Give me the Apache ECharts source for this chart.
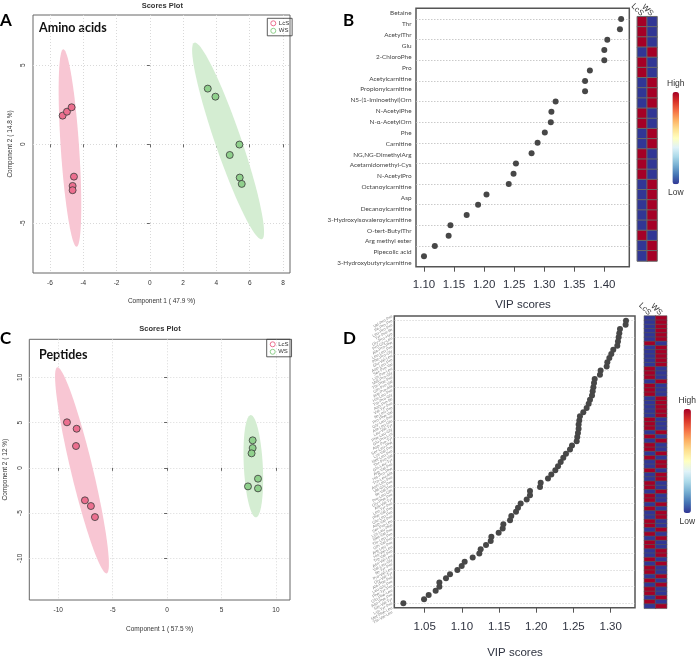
<!DOCTYPE html>
<html lang="en">
<head>
<meta charset="UTF-8" />
<title>Scores plots and VIP scores</title>
<script src="https://cdn.jsdelivr.net/npm/echarts@6.0.0/dist/echarts.min.js"></script>
<style>html, body { margin: 0; padding: 0; background: #fff; }</style>
</head>
<body>
<div id="main" style="width: 697px; height: 658px"></div>
<script>
// ---- A: amino acids, PLS-DA scores ----
const aLcS = [[-5.24, 1.81], [-4.98, 2.06], [-4.70, 2.34], [-4.56, -2.05], [-4.64, -2.64], [-4.64, -2.91]]
const aWS = [[3.48, 3.52], [3.94, 3.01], [4.80, -0.68], [5.38, -0.02], [5.40, -2.11], [5.52, -2.51]]
// ellipse = [centre x, centre y, half axis 1 dx, dy, half axis 2 dx, dy]
const aEllipseLcS = [-4.80, -0.24, 0.40, -6.25, 0.55, 0.04]
const aEllipseWS = [4.70, 0.21, 2.03, -6.22, 0.74, 0.27]

// ---- C: peptides, PLS-DA scores ----
const cLcS = [[-9.20, 5.03], [-8.31, 4.32], [-8.37, 2.41], [-7.55, -3.59], [-7.00, -4.22], [-6.63, -5.44]]
const cWS = [[7.86, 3.04], [7.86, 2.19], [7.76, 1.60], [8.35, -1.20], [7.43, -2.05], [8.35, -2.27]]
const cEllipseLcS = [-7.82, -0.28, 2.27, -11.38, 0.98, 0.28]
const cEllipseWS = [7.92, 0.18, 0.24, -5.65, 0.87, 0.05]

// ---- B: amino acids VIP scores (top to bottom) ----
const bNames = ['Betaine', 'Thr', 'AcetylThr', 'Glu', '2-ChloroPhe', 'Pro', 'Acetylcarnitine',
  'Propionylcarnitine', 'N5-(1-Iminoethyl)Orn', 'N-AcetylPhe', 'N-\u03b1-AcetylOrn', 'Phe', 'Carnitine',
  'NG,NG-DimethylArg', 'Acetamidomethyl-Cys', 'N-AcetylPro', 'Octanoylcarnitine', 'Asp',
  'Decanoylcarnitine', '3-Hydroxyisovaleroylcarnitine', 'O-tert-ButylThr', 'Arg methyl ester',
  'Pipecolic acid', '3-Hydroxybutyrylcarnitine']
const bVip = [1.428, 1.426, 1.405, 1.400, 1.400, 1.376, 1.368, 1.368, 1.319, 1.312, 1.311, 1.301,
  1.289, 1.279, 1.253, 1.249, 1.241, 1.204, 1.190, 1.171, 1.144, 1.141, 1.118, 1.100]
const bLcS = [1, 1, 1, 0, 1, 1, 0, 0, 0, 1, 1, 0, 0, 1, 1, 1, 0, 0, 0, 0, 0, 1, 0, 0]
const bWS = [0, 0, 0, 1, 0, 0, 1, 1, 1, 0, 0, 1, 1, 0, 0, 0, 1, 1, 1, 1, 1, 0, 1, 1]
const bTicks = [1.10, 1.15, 1.20, 1.25, 1.30, 1.35, 1.40]

// ---- D: peptides VIP scores (top to bottom) ----
const dNames = ['Val-Pro-Pro', 'Ile-Pro-Pro', 'Leu-Pro-Pro', 'Tyr-Pro-Ile', 'Gly-Pro-Hyp', 'Pro-Gly-Leu',
  'Ala-Pro-Phe', 'Leu-Leu-Pro', 'Phe-Pro-Gly', 'Glu-Val-Leu', 'Asp-Leu-Pro', 'Ser-Pro-Val', 'Lys-Pro-Leu',
  'Met-Pro-Gly', 'Thr-Phe-Pro', 'Gln-Pro-Val', 'Arg-Pro-Ala', 'His-Leu-Pro', 'Trp-Pro-Gly', 'Asn-Pro-Ile',
  'Val-Tyr-Pro', 'Ile-Leu-Pro', 'Pro-Phe-Val', 'Gly-Leu-Pro', 'Ala-Leu-Glu', 'Leu-Val-Tyr', 'Phe-Leu-Gly',
  'Glu-Pro-Lys', 'Asp-Pro-Tyr', 'Ser-Leu-Phe', 'Lys-Val-Pro', 'Met-Leu-Pro', 'Thr-Pro-Val', 'Gln-Leu-Tyr',
  'Arg-Val-Pro', 'His-Pro-Phe', 'Trp-Leu-Ala', 'Asn-Leu-Pro', 'Val-Gly-Pro', 'Ile-Val-Pro', 'Pro-Leu-Gln',
  'Gly-Phe-Pro', 'Ala-Val-Tyr', 'Leu-Tyr-Pro', 'Phe-Val-Pro', 'Glu-Leu-Pro', 'Asp-Val-Pro', 'Ser-Pro-Leu',
  'Lys-Leu-Phe', 'Met-Val-Pro', 'Thr-Leu-Pro', 'Gln-Val-Pro', 'Arg-Leu-Pro', 'His-Val-Leu', 'Trp-Val-Pro',
  'Asn-Val-Leu', 'Val-Leu-Gly', 'Ile-Tyr-Pro', 'Pro-Val-Leu', 'Gly-Val-Tyr', 'Ala-Phe-Pro', 'Leu-Gly-Pro',
  'Phe-Tyr-Pro', 'Glu-Phe-Leu', 'Asp-Phe-Pro', 'Ser-Val-Tyr', 'Lys-Tyr-Pro', 'Met-Phe-Leu', 'Thr-Val-Leu']
const dVip = [1.3206, 1.3201, 1.3125, 1.3116, 1.3107, 1.3098, 1.3089, 1.3035, 1.3008, 1.2982,
  1.2955, 1.2946, 1.2865, 1.2856, 1.2785, 1.2776, 1.2767, 1.2758, 1.2749, 1.2722,
  1.2704, 1.2677, 1.2632, 1.2587, 1.2578, 1.2569, 1.2569, 1.2560, 1.2551, 1.2543,
  1.2480, 1.2453, 1.2399, 1.2363, 1.2328, 1.2292, 1.2256, 1.2202, 1.2157, 1.2059,
  1.2050, 1.1915, 1.1915, 1.1871, 1.1790, 1.1754, 1.1727, 1.1664, 1.1647, 1.1557,
  1.1548, 1.1494, 1.1396, 1.1387, 1.1324, 1.1252, 1.1234, 1.1145, 1.1037, 1.0997,
  1.0939, 1.0840, 1.0786, 1.0697, 1.0697, 1.0647, 1.0553, 1.0491, 1.0213]
const dLcS = [0, 0, 0, 0, 0, 0, 1, 0, 0, 0, 0, 0, 1, 1, 1, 0, 1, 1, 1, 0,
  0, 0, 0, 0, 1, 1, 1, 0, 1, 0, 1, 1, 0, 1, 0, 0, 1, 0, 0, 1,
  1, 0, 1, 1, 0, 1, 0, 0, 1, 1, 0, 1, 0, 1, 1, 0, 0, 1, 0, 1,
  1, 0, 1, 0, 1, 1, 0, 1, 0]
const dWS = dLcS.map(v => 1 - v)
const dTicks = [1.05, 1.10, 1.15, 1.20, 1.25, 1.30]

const groups = ['LcS', 'WS']
const rdylbu = ['#313695', '#4575b4', '#74add1', '#abd9e9', '#e0f3f8', '#ffffbf',
  '#fee090', '#fdae61', '#f46d43', '#d73027', '#a50026']

const red = '#ec6f8f', green = '#8fd08c'
const redFill = '#f8c6d3', greenFill = '#d4edd2'
const rFont = 'Liberation Sans'

function ellipseItem(params, api) {
  const pts = []
  for (let i = 0; i < 90; i++) {
    const t = i / 90 * Math.PI * 2
    pts.push(api.coord([
      api.value(0) + Math.cos(t) * api.value(2) + Math.sin(t) * api.value(4),
      api.value(1) + Math.cos(t) * api.value(3) + Math.sin(t) * api.value(5)
    ]))
  }
  return { type: 'polygon', shape: { points: pts }, style: { fill: api.visual('color') } }
}

// axis helpers
const dotted = { show: true, lineStyle: { color: '#d9d9d9', type: [1, 2], width: 1 } }
function scoreX(gi, min, max, ticks, name, gap) {
  return {
    type: 'value', gridIndex: gi, min: min, max: max, name: name, nameLocation: 'middle', nameGap: gap,
    nameTextStyle: { fontFamily: rFont, fontSize: 6.5, color: '#333' },
    axisLine: { show: false },
    axisTick: { show: true, length: 3, customValues: ticks, lineStyle: { color: '#666' } },
    axisLabel: { customValues: ticks, fontFamily: rFont, fontSize: 6.5, color: '#333', margin: 7 },
    splitLine: dotted
  }
}
function scoreY(gi, min, max, ticks, name, gap) {
  return {
    type: 'value', gridIndex: gi, min: min, max: max, name: name, nameLocation: 'middle', nameGap: gap,
    nameTextStyle: { fontFamily: rFont, fontSize: 6.5, color: '#333' },
    axisLine: { show: false },
    axisTick: { show: true, length: 3, customValues: ticks, lineStyle: { color: '#666' } },
    axisLabel: { customValues: ticks, rotate: 90, fontFamily: rFont, fontSize: 6.5, color: '#333', margin: 6 },
    splitLine: dotted
  }
}
function vipX(gi, min, max, ticks, offset, margin) {
  return {
    type: 'value', gridIndex: gi, min: min, max: max, offset: offset,
    axisLine: { show: false },
    axisTick: { show: true, length: 5, customValues: ticks, lineStyle: { color: '#555' } },
    axisLabel: { customValues: ticks, formatter: v => v.toFixed(2), fontFamily: rFont, fontSize: 11.5,
      color: '#2f3340', margin: margin },
    splitLine: { show: false }
  }
}
function hidden(gi) {
  return { type: 'value', gridIndex: gi, min: 0, max: 1, show: false }
}
function heatX(gi, rot) {
  return {
    type: 'category', gridIndex: gi, data: groups, position: 'top',
    axisLine: { show: false }, axisTick: { show: false },
    axisLabel: { rotate: rot, fontFamily: rFont, fontSize: 8, color: '#333', margin: 2, interval: 0 }
  }
}
function catY(gi, names, opts) {
  return Object.assign({
    type: 'category', gridIndex: gi, data: names, inverse: true,
    axisLine: { show: false }, axisTick: { show: false }, axisLabel: { show: false }
  }, opts)
}

const heatB = []
bNames.forEach((n, i) => { heatB.push([0, i, bLcS[i]]); heatB.push([1, i, bWS[i]]) })
const heatD = []
dNames.forEach((n, i) => { heatD.push([0, i, dLcS[i]]); heatD.push([1, i, dWS[i]]) })

const chart = echarts.init(document.getElementById('main'))
chart.setOption({
  animation: false,
  backgroundColor: '#fff',
  textStyle: { fontFamily: rFont },
  grid: [
    { left: 33, top: 15, width: 257, height: 258, show: true, borderColor: '#666', borderWidth: 1 },
    { left: 29.3, top: 339.3, width: 260.7, height: 260.7, show: true, borderColor: '#666', borderWidth: 1 },
    { left: 416, top: 7.9, width: 213.3, height: 260.6 },
    { left: 416, top: 19, width: 213.3, height: 237.3 },
    { left: 637.3, top: 14.7, width: 19.7, height: 246.3 },
    { left: 394.3, top: 314, width: 240.7, height: 300 },
    { left: 394.3, top: 320.7, width: 240.7, height: 282.6 },
    { left: 644.3, top: 316, width: 22.4, height: 292.3 }
  ],
  xAxis: [
    scoreX(0, -7.02, 8.42, [-6, -4, -2, 0, 2, 4, 6, 8], 'Component 1 ( 47.9 %)', 25),
    scoreX(1, -12.66, 11.29, [-10, -5, 0, 5, 10], 'Component 1 ( 57.5 %)', 26),
    hidden(2),
    vipX(3, 1.0867, 1.4416, bTicks, 10.4, 12),
    heatX(4, 45),
    hidden(5),
    vipX(6, 1.0091, 1.3327, dTicks, 4.4, 13),
    heatX(7, 45)
  ],
  yAxis: [
    scoreY(0, -8.15, 8.18, [-5, 0, 5], 'Component 2 ( 14.8 %)', 19),
    scoreY(1, -14.6, 14.2, [-10, -5, 0, 5, 10], 'Component 2 ( 12 %)', 21),
    catY(2, bNames, { axisLabel: { show: true, fontFamily: 'Lato', fontSize: 6.4, color: '#444', margin: 4.5 } }),
    catY(3, bNames, { boundaryGap: false, splitLine: { show: true, lineStyle: { color: '#bdbdbd', type: [1.5, 1.5], width: 0.8 } } }),
    catY(4, bNames),
    catY(5, dNames, { axisLabel: { show: true, interval: 0, rotate: 30, fontFamily: rFont, fontSize: 4.2, color: '#888', margin: 2 } }),
    catY(6, dNames, { boundaryGap: false, splitLine: { show: true, lineStyle: { color: '#c4c4c4', type: [1.5, 1.5], width: 0.6 } } }),
    catY(7, dNames)
  ],
  visualMap: [
    { type: 'continuous', seriesIndex: 7, min: 0, max: 1, calculable: false, left: 652, top: 64,
      itemWidth: 6.6, itemHeight: 92.3, textGap: 4, text: ['High', 'Low'],
      textStyle: { fontFamily: rFont, fontSize: 8.5, color: '#333' }, inRange: { color: rdylbu } },
    { type: 'continuous', seriesIndex: 9, min: 0, max: 1, calculable: false, left: 663.5, top: 381,
      itemWidth: 7.4, itemHeight: 104, textGap: 4, text: ['High', 'Low'],
      textStyle: { fontFamily: rFont, fontSize: 8.5, color: '#333' }, inRange: { color: rdylbu } }
  ],
  legend: [
    { left: 267.3, top: 18.3, orient: 'vertical', itemWidth: 5, itemHeight: 5, itemGap: 1.5, padding: [2, 3, 2, 3],
      borderColor: '#333', borderWidth: 0.8, textStyle: { fontSize: 6, color: '#333', padding: [0, 0, 0, -2] },
      data: [{ name: 'LcS', icon: 'circle', itemStyle: { color: '#fff', borderColor: red, borderWidth: 1 } },
             { name: 'WS', icon: 'circle', itemStyle: { color: '#fff', borderColor: green, borderWidth: 1 } }] },
    { left: 266.7, top: 339.3, orient: 'vertical', itemWidth: 5, itemHeight: 5, itemGap: 1.5, padding: [2, 3, 2, 3],
      borderColor: '#333', borderWidth: 0.8, textStyle: { fontSize: 6, color: '#333', padding: [0, 0, 0, -2] },
      data: [{ name: 'LcS', icon: 'circle', itemStyle: { color: '#fff', borderColor: red, borderWidth: 1 } },
             { name: 'WS', icon: 'circle', itemStyle: { color: '#fff', borderColor: green, borderWidth: 1 } }] }
  ],
  series: [
    { type: 'custom', xAxisIndex: 0, yAxisIndex: 0, renderItem: ellipseItem, encode: { x: 0, y: 1 }, silent: true, z: 1,
      data: [{ value: aEllipseLcS, itemStyle: { color: redFill } }, { value: aEllipseWS, itemStyle: { color: greenFill } }] },
    { name: 'LcS', type: 'scatter', xAxisIndex: 0, yAxisIndex: 0, data: aLcS, symbolSize: 7, z: 3,
      itemStyle: { color: red, borderColor: '#3a3a3a', borderWidth: 0.8, opacity: 1 } },
    { name: 'WS', type: 'scatter', xAxisIndex: 0, yAxisIndex: 0, data: aWS, symbolSize: 7, z: 3,
      itemStyle: { color: green, borderColor: '#3a3a3a', borderWidth: 0.8, opacity: 1 } },
    { type: 'custom', xAxisIndex: 1, yAxisIndex: 1, renderItem: ellipseItem, encode: { x: 0, y: 1 }, silent: true, z: 1,
      data: [{ value: cEllipseLcS, itemStyle: { color: redFill } }, { value: cEllipseWS, itemStyle: { color: greenFill } }] },
    { name: 'LcS', type: 'scatter', xAxisIndex: 1, yAxisIndex: 1, data: cLcS, symbolSize: 7, z: 3,
      itemStyle: { color: red, borderColor: '#3a3a3a', borderWidth: 0.8, opacity: 1 } },
    { name: 'WS', type: 'scatter', xAxisIndex: 1, yAxisIndex: 1, data: cWS, symbolSize: 7, z: 3,
      itemStyle: { color: green, borderColor: '#3a3a3a', borderWidth: 0.8, opacity: 1 } },
    { type: 'scatter', xAxisIndex: 3, yAxisIndex: 3, symbolSize: 6, itemStyle: { color: '#474747', opacity: 1 },
      data: bVip.map((v, i) => [v, bNames[i]]) },
    { type: 'heatmap', xAxisIndex: 4, yAxisIndex: 4, data: heatB,
      itemStyle: { borderColor: '#6a6a6a', borderWidth: 1 } },
    { type: 'scatter', xAxisIndex: 6, yAxisIndex: 6, symbolSize: 6, itemStyle: { color: '#474747', opacity: 1 },
      data: dVip.map((v, i) => [v, dNames[i]]) },
    { type: 'heatmap', xAxisIndex: 7, yAxisIndex: 7, data: heatD,
      itemStyle: { borderColor: '#555', borderWidth: 0.6 } }
  ],
  graphic: [
    { type: 'rect', shape: { x: 416, y: 8.3, width: 213.3, height: 258.4 }, silent: true,
      style: { fill: 'none', stroke: '#555', lineWidth: 1.5 } },
    { type: 'rect', shape: { x: 394.3, y: 316, width: 240.7, height: 291.7 }, silent: true,
      style: { fill: 'none', stroke: '#555', lineWidth: 1.5 } },
    { type: 'text', x: 162.3, y: 6, style: { text: 'Scores Plot', font: 'bold 7.5px "Liberation Sans"', fill: '#333', align: 'center', verticalAlign: 'middle' } },
    { type: 'text', x: 160, y: 329, style: { text: 'Scores Plot', font: 'bold 7.5px "Liberation Sans"', fill: '#333', align: 'center', verticalAlign: 'middle' } },
    { type: 'text', x: 39, y: 28, style: { text: 'Amino acids', font: 'bold 12.5px Lato', fill: '#111', verticalAlign: 'middle' } },
    { type: 'text', x: 39, y: 354.5, style: { text: 'Peptides', font: 'bold 12.5px Lato', fill: '#111', verticalAlign: 'middle' } },
    { type: 'text', x: 0, y: 21, style: { text: 'A', font: 'bold 17px Lato', fill: '#000', verticalAlign: 'middle' } },
    { type: 'text', x: 343, y: 21, style: { text: 'B', font: 'bold 17px Lato', fill: '#000', verticalAlign: 'middle' } },
    { type: 'text', x: 0, y: 339, style: { text: 'C', font: 'bold 17px Lato', fill: '#000', verticalAlign: 'middle' } },
    { type: 'text', x: 343, y: 339, style: { text: 'D', font: 'bold 17px Lato', fill: '#000', verticalAlign: 'middle' } },
    { type: 'text', x: 523, y: 305, style: { text: 'VIP scores', font: '11.5px "Liberation Sans"', fill: '#2f3340', align: 'center', verticalAlign: 'middle' } },
    { type: 'text', x: 515, y: 653, style: { text: 'VIP scores', font: '11.5px "Liberation Sans"', fill: '#2f3340', align: 'center', verticalAlign: 'middle' } }
  ]
})
</script>
</body>
</html>
